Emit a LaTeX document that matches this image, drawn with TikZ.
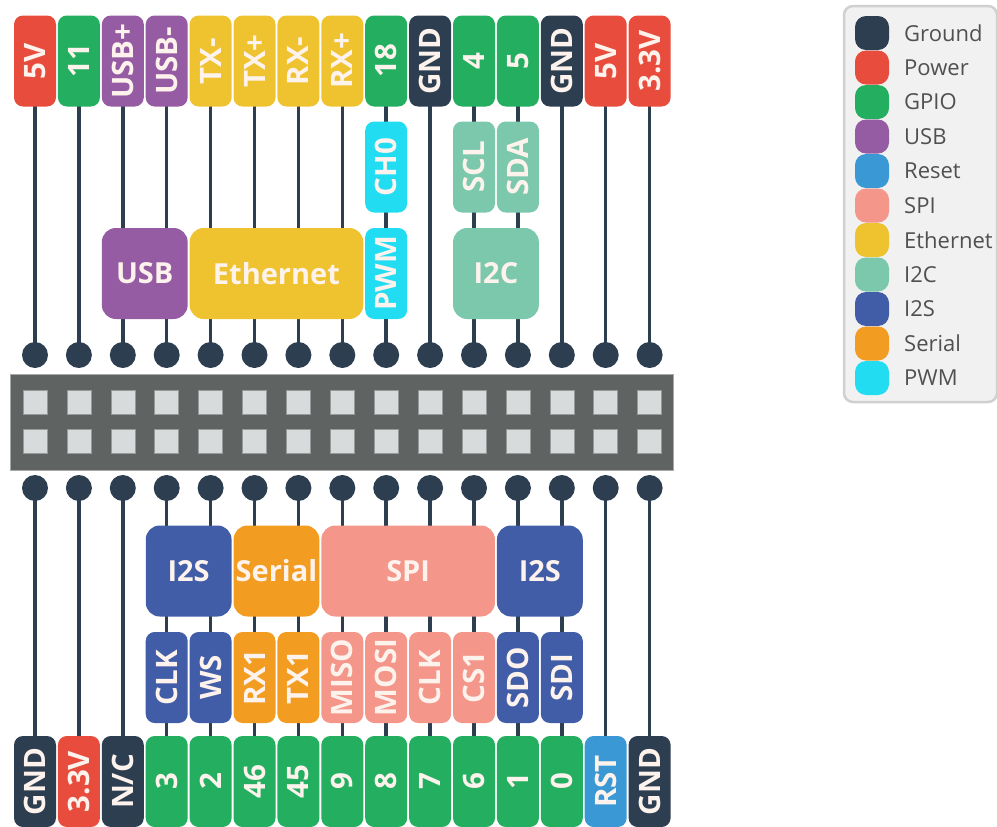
\documentclass[tikz,border=0pt]{standalone}
\usepackage{fontspec}
\setmainfont{Open Sans}
\usetikzlibrary{backgrounds}
\definecolor{cground}{HTML}{2C3E50}
\definecolor{cpower}{HTML}{E74C3C}
\definecolor{cgpio}{HTML}{23AE60}
\definecolor{cusb}{HTML}{955CA3}
\definecolor{creset}{HTML}{3A98D4}
\definecolor{cspi}{HTML}{F49689}
\definecolor{ceth}{HTML}{EFC330}
\definecolor{ci2c}{HTML}{7BC8AD}
\definecolor{ci2s}{HTML}{415DA8}
\definecolor{cserial}{HTML}{F29D22}
\definecolor{cpwm}{HTML}{22DDF2}
\definecolor{ctext}{HTML}{FDF2EC}
\definecolor{cbar}{HTML}{5F6361}
\definecolor{csq}{HTML}{D8DBDC}
\definecolor{clegbg}{HTML}{F1F1F1}
\definecolor{clegbd}{HTML}{D0D0D0}
\definecolor{clegtx}{HTML}{505050}
\tikzset{
  pinlab/.style={rotate=90, rounded corners=9pt, inner sep=0pt, minimum width=91pt, minimum height=42pt, text=ctext, font=\fontsize{29.5}{29.5}\selectfont\bfseries},
  grp/.style={rounded corners=14pt, inner sep=0pt, minimum height=91pt, text=ctext, font=\fontsize{29}{29}\selectfont\bfseries},
  dot/.style={circle, fill=cground, inner sep=0pt, minimum size=26pt},
  wire/.style={draw=cground, line width=3.5pt},
  sq/.style={fill=csq, draw=csq!70!black, line width=0.6pt, inner sep=0pt, minimum size=24pt},
  swatch/.style={fill=#1, rounded corners=11pt, inner sep=0pt, minimum size=34pt},
  legtxt/.style={anchor=west, text=clegtx, inner sep=0pt, font=\fontsize{22}{22}\selectfont},
}
\begin{document}
\begin{tikzpicture}[x=1pt, y=-1pt]
\useasboundingbox (0,0) rectangle (997,827);
% header
\node[fill=cbar, draw=cbar!55!white, line width=1pt, inner sep=0pt, minimum width=663pt, minimum height=96pt] (hdr) at (341.5,422) {};
% top pin labels
\foreach \i/\t/\c in {1/5V/cpower, 2/11/cgpio, 3/USB+/cusb, 4/USB-/cusb, 5/TX-/ceth, 6/TX+/ceth, 7/RX-/ceth, 8/RX+/ceth, 9/18/cgpio, 10/GND/cground, 11/4/cgpio, 12/5/cgpio, 13/GND/cground, 14/5V/cpower, 15/3.3V/cpower}{
  \node[pinlab, fill=\c] (t\i) at ({35+(\i-1)*43.9},61) {\t};
  \node[dot] (dt\i) at ({35+(\i-1)*43.9},355) {};
  \node[sq] (sa\i) at ({35+(\i-1)*43.9},402.5) {};
  \node[sq] (sb\i) at ({35+(\i-1)*43.9},441.5) {};
  \node[dot] (db\i) at ({35+(\i-1)*43.9},488) {};
}
% bottom pin labels
\foreach \i/\t/\c in {1/GND/cground, 2/3.3V/cpower, 3/{N/C}/cground, 4/3/cgpio, 5/2/cgpio, 6/46/cgpio, 7/45/cgpio, 8/9/cgpio, 9/8/cgpio, 10/7/cgpio, 11/6/cgpio, 12/1/cgpio, 13/0/cgpio, 14/RST/creset, 15/GND/cground}{
  \node[pinlab, fill=\c] (b\i) at ({35+(\i-1)*43.9},781.5) {\t};
}
% top sub labels
\node[pinlab, fill=cpwm] (ch0) at (386.2,167) {CH0};
\node[pinlab, fill=ci2c] (scl) at (474,167) {SCL};
\node[pinlab, fill=ci2c] (sda) at (517.9,167) {SDA};
% top groups
\node[grp, fill=cusb, minimum width=85.8pt] (gusb) at (144.75,273.5) {USB};
\node[grp, fill=ceth, minimum width=173.6pt] (geth) at (276.45,273.5) {Ethernet};
\node[pinlab, fill=cpwm] (gpwm) at (386.2,273.5) {PWM};
\node[grp, fill=ci2c, minimum width=85.8pt] (gi2c) at (495.95,273.5) {I2C};
% bottom groups
\node[grp, fill=ci2s, minimum width=85.8pt] (gi2sa) at (188.65,571) {I2S};
\node[grp, fill=cserial, minimum width=85.8pt] (gser) at (276.45,571) {Serial};
\node[grp, fill=cspi, minimum width=173.6pt] (gspi) at (408.15,571) {SPI};
\node[grp, fill=ci2s, minimum width=85.8pt] (gi2sb) at (539.85,571) {I2S};
% bottom sub labels
\foreach \i/\t/\c in {4/CLK/ci2s, 5/WS/ci2s, 6/RX1/cserial, 7/TX1/cserial, 8/MISO/cspi, 9/MOSI/cspi, 10/CLK/cspi, 11/CS1/cspi, 12/SDO/ci2s, 13/SDI/ci2s}{
  \node[pinlab, fill=\c] (s\i) at ({35+(\i-1)*43.9},677.5) {\t};
}
% wires
\begin{scope}[on background layer]
\foreach \i in {1,...,15}{
  \draw[wire] (t\i.center) -- (dt\i.center);
  \draw[wire] (db\i.center) -- (b\i.center);
}
\end{scope}
% legend
\node[fill=clegbg, draw=clegbd, line width=2.5pt, rounded corners=9pt, inner sep=0pt, minimum width=153pt, minimum height=396pt] (leg) at (920.5,204) {};
\foreach \k/\t/\c in {0/Ground/cground, 1/Power/cpower, 2/GPIO/cgpio, 3/USB/cusb, 4/Reset/creset, 5/SPI/cspi, 6/Ethernet/ceth, 7/I2C/ci2c, 8/I2S/ci2s, 9/Serial/cserial, 10/PWM/cpwm}{
  \node[swatch=\c] (sw\k) at (872,{33+\k*34.5}) {};
  \node[legtxt] (lt\k) at (904,{33+\k*34.5}) {\t};
}
\end{tikzpicture}
\end{document}
